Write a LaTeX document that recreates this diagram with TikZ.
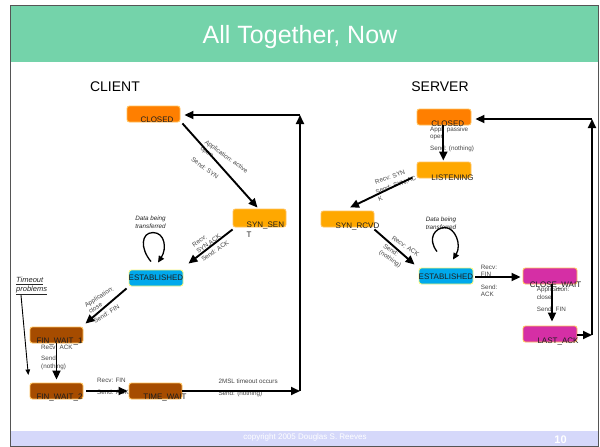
\documentclass[tikz,border=0pt]{standalone}
\usepackage{fontspec}
\setmainfont{Liberation Sans}
\usetikzlibrary{arrows.meta}

\definecolor{headgreen}{HTML}{74D3AA}
\definecolor{footlilac}{HTML}{D5D8FA}
\definecolor{framegray}{HTML}{555555}
\definecolor{fillclosed}{HTML}{FF7F00}
\definecolor{fillopen}{HTML}{FFA800}
\definecolor{fillest}{HTML}{00A9EC}
\definecolor{fillfin}{HTML}{A64C00}
\definecolor{fillpeer}{HTML}{D52FA5}
\definecolor{rimorange}{HTML}{FFC25C}
\definecolor{rimyellow}{HTML}{F7F77A}
\definecolor{notegray}{HTML}{454545}
\definecolor{statetext}{HTML}{1E1E1E}

\begin{document}
\begin{tikzpicture}[x=1pt,y=-1pt,
  statebox/.style={draw=rimorange, line width=0.9pt, rounded corners=2.5pt,
    minimum width=53pt, minimum height=16pt, inner sep=0pt},
  stname/.style={font=\fontsize{8}{10}\selectfont, text=statetext, inner sep=0pt, anchor=base},
  note/.style={font=\fontsize{6.3}{7.5}\selectfont, text=notegray, inner sep=0pt, align=left},
  italnote/.style={font=\fontsize{6.3}{7.5}\selectfont\itshape, text=black!85, inner sep=0pt, align=center},
  flow/.style={line width=1.9pt, -{Triangle[length=9pt,width=8pt]}},
  selfloop/.style={line width=1.3pt, -{Triangle[length=6.5pt,width=6pt]}},
  thinflow/.style={line width=0.9pt, -{Triangle[length=5.5pt,width=4.5pt]}},
  heading/.style={font=\fontsize{14}{16}\selectfont, inner sep=0pt, anchor=base}
]
\useasboundingbox (0,0) rectangle (600,447);
\fill[white] (0,0) rectangle (600,447);

% slide frame, title bar and footer
\fill[headgreen] (10,5) rectangle (598,62);
\fill[footlilac] (10,431) rectangle (598,446);
\draw[framegray, line width=1pt] (10,5) rectangle (598,446);
\node[font=\fontsize{25}{30}\selectfont, text=white, anchor=base, inner sep=0pt] (title) at (300,43.5) {All Together, Now};
\node[font=\fontsize{8}{9}\selectfont, text=white, anchor=base, inner sep=0pt] (copy) at (305,439) {copyright 2005 Douglas S. Reeves};
\node[font=\fontsize{11}{12}\selectfont\bfseries, text=white, anchor=base, inner sep=0pt] (pageno) at (560.5,443) {10};

% column headings
\node[heading] (client) at (115,91) {CLIENT};
\node[heading] (server) at (440,91) {SERVER};

% client states
\node[statebox, fill=fillclosed] (cclosed) at (153.5,114) {};
\node[statebox, fill=fillopen, minimum height=18pt] (csynsent) at (259.5,218) {};
\node[statebox, fill=fillest, draw=rimyellow, minimum width=54pt] (cest) at (156,278) {};
\node[statebox, fill=fillfin] (cfw1) at (56.5,335) {};
\node[statebox, fill=fillfin] (cfw2) at (56.5,391) {};
\node[statebox, fill=fillfin] (ctw) at (155.5,391) {};

% server states
\node[statebox, fill=fillclosed, minimum width=54pt] (sclosed) at (444,117) {};
\node[statebox, fill=fillopen, minimum width=54pt] (slisten) at (444,170) {};
\node[statebox, fill=fillopen] (ssynrcvd) at (347.5,219) {};
\node[statebox, fill=fillest, draw=rimyellow, minimum width=54pt] (sest) at (446,276) {};
\node[statebox, fill=fillpeer, minimum width=54pt] (sclosewait) at (550,276) {};
\node[statebox, fill=fillpeer, minimum width=54pt] (slastack) at (550,334) {};

% state names
\node[stname] (cclosed-t) at (157,122) {CLOSED};
\node[stname, anchor=base west] (csynsent-t) at (246.5,227.7) {SYN\_SEN};
\node[stname, anchor=base west] (csynsent-t2) at (246.5,237.7) {T};
\node[stname] (cest-t) at (156,280.5) {ESTABLISHED};
\node[stname] (cfw1-t) at (59.5,343) {FIN\_WAIT\_1};
\node[stname] (cfw2-t) at (59.5,399) {FIN\_WAIT\_2};
\node[stname] (ctw-t) at (165,399) {TIME\_WAIT};
\node[stname] (sclosed-t) at (447.7,126.5) {CLOSED};
\node[stname] (slisten-t) at (452.5,180) {LISTENING};
\node[stname] (ssynrcvd-t) at (357.5,228) {SYN\_RCVD};
\node[stname] (sest-t) at (446,279.3) {ESTABLISHED};
\node[stname] (sclosewait-t) at (555.5,287) {CLOSE\_WAIT};
\node[stname] (slastack-t) at (558,343) {LAST\_ACK};

% client transition labels
\node[note, rotate=-36] (l-actopen) at (224,160) {Application: active\\open};
\node[note, rotate=-36] (l-sendsyn) at (205,168) {Send: SYN};
\node[note, rotate=35] (l-rcvsynack) at (206.5,241) {Recv:\\SYN,ACK};
\node[note, rotate=35] (l-sendack1) at (215,251) {Send: ACK};
\node[italnote] (l-data1) at (150.5,222) {Data being\\transferred};
\node[note, rotate=32] (l-appclose1) at (101,300) {Application:\\close};
\node[note, rotate=32] (l-sendfin1) at (106.5,314) {Send: FIN};
\node[note, anchor=west] (l-rcvack1) at (41,347.3) {Recv: ACK};
\node[note, anchor=west] (l-nothing1) at (41,363) {Send:\\(nothing)};
\node[note, anchor=west] (l-rcvfin1) at (97,380.7) {Recv: FIN};
\node[note, anchor=west] (l-sendack2) at (97,392.7) {Send: ACK};
\node[note, anchor=west] (l-2msl) at (218.3,381.7) {2MSL timeout occurs};
\node[note, anchor=west] (l-nothing2) at (218.3,394.3) {Send: (nothing)};
\node[font=\fontsize{7.5}{9}\selectfont\itshape, text=black!85, anchor=west, inner sep=0pt, align=left] (tnote) at (16,286) {\underline{Timeout}\\\underline{problems}};

% server transition labels
\node[note, anchor=west] (l-passive) at (430,133.3) {Appl: passive\\open};
\node[note, anchor=west] (l-nothing3) at (430,149) {Send: (nothing)};
\node[note, rotate=20] (l-rcvsyn) at (390,177) {Recv: SYN};
\node[note, rotate=20] (l-sendsynack) at (397,188.5) {Send: SYN,AC\\K};
\node[note, rotate=-34] (l-rcvack2) at (405.5,246) {Recv: ACK};
\node[note, rotate=-34] (l-nothing4) at (392,256) {Send:\\(nothing)};
\node[italnote] (l-data2) at (441,223) {Data being\\transferred};
\node[note, anchor=west] (l-rcvfin2) at (480.7,270.8) {Recv:\\FIN};
\node[note, anchor=west] (l-sendack3) at (480.7,290.8) {Send:\\ACK};
\node[note, anchor=west] (l-appclose2) at (536.7,293) {Application:\\close};
\node[note, anchor=west] (l-sendfin2) at (536.7,309) {Send: FIN};

% client transitions
\draw[flow] ([shift={(2,1)}]cclosed.south east) -- ([shift={(-2,-1)}]csynsent.north);
\draw[flow] ([shift={(0,2)}]csynsent.south west) -- ([shift={(5,-6)}]cest.north east);
\draw[selfloop] ([shift={(-5,-8)}]cest.north) .. controls +(-11,-13) and +(-12,0) .. ([shift={(-3,-37)}]cest.north)
  .. controls +(12,0) and +(9,-14) .. ([shift={(2,-7)}]cest.north);
\draw[flow] ([shift={(-2,2)}]cest.south west) -- ([shift={(2,-3)}]cfw1.north east);
\draw[flow] (cfw1.south) -- ([shift={(0,-3)}]cfw2.north);
\draw[flow] ([shift={(3,0)}]cfw2.east) -- ([shift={(-1,0)}]ctw.west);
\coordinate (cbend1) at (300,391);
\coordinate (cbend2) at (300,115);
\draw[flow] (ctw.east) -- (cbend1);
\draw[flow] (cbend1) -- (cbend2);
\draw[flow] (cbend2) -- ([shift={(4,1)}]cclosed.east);
\coordinate (ttip) at (28.3,375);
\draw[thinflow] ([shift={(5,0)}]tnote.south west) -- (ttip);

% server transitions
\draw[flow] ([shift={(-0.7,0)}]sclosed.south) -- ([shift={(-0.7,-1)}]slisten.north);
\draw[flow] ([shift={(-4,-1)}]slisten.south west) -- ([shift={(2.5,-3)}]ssynrcvd.north);
\draw[flow] ([shift={(0,2)}]ssynrcvd.south east) -- ([shift={(-4,-3)}]sest.north west);
\draw[selfloop] ([shift={(-9,-16)}]sest.north) .. controls +(-10,-13) and +(-10,0) .. ([shift={(-1,-40)}]sest.north)
  .. controls +(10,0) and +(9,-15) .. ([shift={(7,-8)}]sest.north);
\draw[flow] ([shift={(2,1)}]sest.east) -- ([shift={(-2,1)}]sclosewait.west);
\draw[flow] ([shift={(2,0)}]sclosewait.south) -- ([shift={(2,-4)}]slastack.north);
\coordinate (sbend1) at (592,335);
\coordinate (sbend2) at (592,119);
\draw[flow] ([shift={(0,1)}]slastack.east) -- (sbend1);
\draw[flow] (sbend1) -- (sbend2);
\draw[flow] (sbend2) -- ([shift={(4,2)}]sclosed.east);
\end{tikzpicture}
\end{document}
